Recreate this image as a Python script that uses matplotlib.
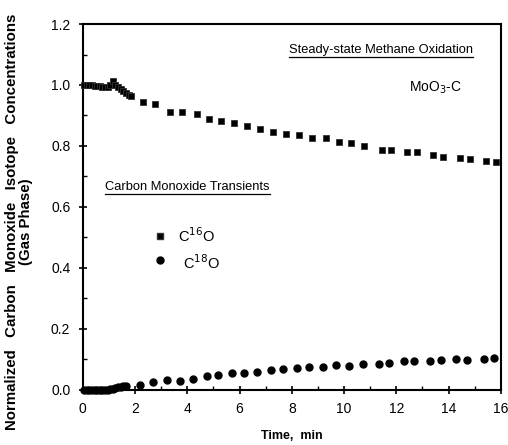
import matplotlib
matplotlib.use("Agg")
import matplotlib.pyplot as plt
from matplotlib.ticker import MultipleLocator

plt.rcParams['font.family'] = ['Liberation Sans', 'DejaVu Sans']

# C16O (squares)
t16 = [0.05, 0.15, 0.25, 0.35, 0.45, 0.55, 0.65, 0.75, 0.85, 0.95, 1.05, 1.15, 1.25,
       1.35, 1.45, 1.55, 1.65, 1.75, 1.85,
       2.30, 2.76, 3.34, 3.80, 4.37, 4.83, 5.30, 5.79, 6.29, 6.79, 7.29, 7.79, 8.29,
       8.79, 9.29, 9.79, 10.28, 10.78, 11.44, 11.78, 12.39, 12.78, 13.39, 13.78,
       14.43, 14.81, 15.43, 15.81]
v16 = [1.0, 1.0, 1.0, 1.0, 0.998, 0.998, 0.996, 0.995, 0.994, 0.993, 1.0, 1.012, 1.0,
       0.995, 0.988, 0.98, 0.975, 0.968, 0.963,
       0.944, 0.938, 0.911, 0.911, 0.905, 0.889, 0.882, 0.875, 0.866, 0.856, 0.846,
       0.840, 0.836, 0.826, 0.826, 0.813, 0.810, 0.800, 0.787, 0.787, 0.780, 0.780,
       0.770, 0.764, 0.760, 0.757, 0.750, 0.748]

# C18O (circles)
t18 = [0.05, 0.15, 0.25, 0.35, 0.45, 0.55, 0.65, 0.75, 0.85, 0.95, 1.05, 1.15, 1.25,
       1.35, 1.45, 1.55, 1.65,
       2.19, 2.68, 3.22, 3.72, 4.22, 4.76, 5.18, 5.72, 6.18, 6.68, 7.21, 7.67, 8.20,
       8.67, 9.20, 9.70, 10.20, 10.74, 11.33, 11.70, 12.28, 12.67, 13.30, 13.70,
       14.30, 14.70, 15.35, 15.73]
v18 = [0.0, 0.0, 0.0, 0.0, 0.0, 0.0, 0.0, 0.0, 0.0, 0.0, 0.002, 0.004, 0.006,
       0.008, 0.010, 0.012, 0.013,
       0.016, 0.026, 0.033, 0.030, 0.036, 0.046, 0.049, 0.055, 0.055, 0.059, 0.064,
       0.069, 0.071, 0.076, 0.076, 0.081, 0.078, 0.085, 0.084, 0.088, 0.093, 0.093,
       0.096, 0.099, 0.101, 0.099, 0.101, 0.104]

xticks = [0, 2, 4, 6, 8, 10, 12, 14, 16]
yticks = [0.0, 0.2, 0.4, 0.6, 0.8, 1.0, 1.2]

fig = plt.figure(figsize=(5.08, 4.45), dpi=100)
ax = fig.add_axes([0.163, 0.124, 0.823, 0.822])

ax.plot(t16, v16, linestyle='none', marker='s', markersize=5, markerfacecolor='black',
        markeredgecolor='#333333', markeredgewidth=0.6, clip_on=False, zorder=3)
ax.plot(t18, v18, linestyle='none', marker='o', markersize=5, markerfacecolor='black',
        markeredgecolor='black', clip_on=False, zorder=3)

ax.set_xlim(0, 16)
ax.set_ylim(0, 1.2)
ax.set_xticks(xticks)
ax.set_xticklabels([str(x) for x in xticks], fontsize=10)
ax.set_yticks(yticks)
ax.set_yticklabels([f"{y:.1f}" for y in yticks], fontsize=10)
ax.xaxis.set_minor_locator(MultipleLocator(1))
ax.yaxis.set_minor_locator(MultipleLocator(0.1))
ax.tick_params(axis='both', which='major', direction='inout', length=6, width=1.2, pad=6)
ax.tick_params(axis='both', which='minor', direction='in', length=3, width=1)
for s in ax.spines.values():
    s.set_linewidth(1.5)

ax.set_xlabel("Time,  min", fontsize=9, fontweight='bold', labelpad=10)
fig.text(19 / 508, 1 - 222 / 445,
         "Normalized   Carbon   Monoxide   Isotope   Concentrations\n(Gas Phase)",
         fontsize=10.8, fontweight='bold', rotation=90, ha='center', va='center',
         linespacing=0.95, multialignment='center')

def underlined(x, y, s, **kw):
    txt = ax.text(x, y, s, fontsize=9.3, **kw)
    fig.canvas.draw()
    bb = txt.get_window_extent()
    inv = ax.transData.inverted()
    (x0, y0), (x1, _) = inv.transform([(bb.x0, bb.y0 - 1), (bb.x1, bb.y0 - 1)])
    ax.plot([x0, x1], [y0, y0], color='black', linewidth=0.9, clip_on=False)
    return txt

underlined(7.9, 1.115, "Steady-state Methane Oxidation", va='center', ha='left')
underlined(0.85, 0.665, "Carbon Monoxide Transients", va='center', ha='left')

ax.text(12.5, 0.99, r"MoO$_3$-C", fontsize=10, va='center', ha='left')

ax.plot([2.95], [0.505], linestyle='none', marker='s', markersize=5,
        markerfacecolor='black', markeredgecolor='#333333')
ax.plot([2.95], [0.426], linestyle='none', marker='o', markersize=5,
        markerfacecolor='black', markeredgecolor='black')
ax.text(3.65, 0.505, r"C$^{16}$O", fontsize=10.5, va='center', ha='left')
ax.text(3.85, 0.418, r"C$^{18}$O", fontsize=10.5, va='center', ha='left')

fig.savefig("out.png", dpi=100)
